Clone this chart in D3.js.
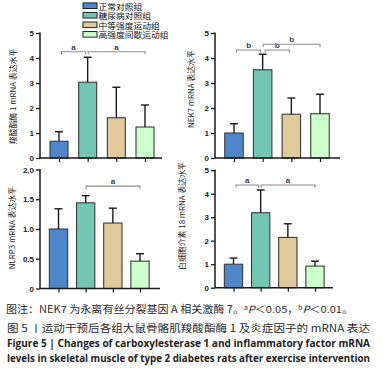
<!DOCTYPE html>
<html><head><meta charset="utf-8">
<script src="https://cdn.jsdelivr.net/npm/d3@7/dist/d3.min.js"></script>
<style>html,body{margin:0;padding:0;background:#fff;}svg{display:block;}</style>
</head><body>
<svg id="chart" width="383" height="378"></svg>
<script>
// ---- data ----
const groups = ["正常对照组","糖尿病对照组","中等强度运动组","高强度间歇运动组"];
const ces1Mean = [0.67, 3.03, 1.61, 1.24];
const ces1Sd   = [0.38, 1.00, 1.22, 0.88];
const nek7Mean = [1.00, 3.53, 1.75, 1.77];
const nek7Sd   = [0.37, 0.62, 0.65, 0.78];
const nlrp3Mean = [1.00, 1.44, 1.10, 0.46];
const nlrp3Sd   = [0.34, 0.12, 0.25, 0.125];
const il18Mean = [1.00, 3.19, 2.14, 0.92];
const il18Sd   = [0.26, 0.97, 0.58, 0.21];
const ticks5 = [0,1,2,3,4,5];
const ticks2 = [0,0.5,1.0,1.5,2.0];
const ces1Sig = [[0,1,"a"],[1,3,"a"]];
const nek7Sig = [[0,1,"b"],[1,2,"b"],[1,3,"b"]];
const nlrp3Sig = [[1,3,"a"]];
const il18Sig = [[0,1,"a"],[1,3,"a"]];

// ---- styles / layout ----
const colors = ["#4d87c7","#73c6b1","#e0c99a","#ccffcc"];
const svg = d3.select("#chart");
const panels = [
  {title:"羧酸酯酶 1 mRNA 表达水平", mean:ces1Mean, sd:ces1Sd, ticks:ticks5, max:5,
   x0:40, x1:162, yTop:33, yBot:158, c0:59, c1:145, bw:18, titleX:12, titleY:96.5, sig:ces1Sig, sigY:[4.25,4.25]},
  {title:"NEK7 mRNA 表达水平", mean:nek7Mean, sd:nek7Sd, ticks:ticks5, max:5,
   x0:215, x1:340, yTop:33, yBot:158, c0:234, c1:320, bw:18.5, titleX:190, titleY:89, sig:nek7Sig, sigY:[4.32,4.32,4.55]},
  {title:"NLRP3 mRNA 表达水平", mean:nlrp3Mean, sd:nlrp3Sd, ticks:ticks2, max:2,
   x0:40, x1:160, yTop:169.5, yBot:288.5, c0:58.5, c1:140, bw:18.3, titleX:11, titleY:228, sig:nlrp3Sig, sigY:[1.72]},
  {title:"白细胞介素 18 mRNA 表达水平", mean:il18Mean, sd:il18Sd, ticks:ticks5, max:5,
   x0:215, x1:333, yTop:170.2, yBot:287.7, c0:233.5, c1:315, bw:18.3, titleX:181, titleY:216, sig:il18Sig, sigY:[4.37,4.37]}
];

panels.forEach(p => {
  const g = svg.append("g");
  const x = d3.scalePoint().domain(d3.range(groups.length)).range([p.c0, p.c1]);
  const y = d3.scaleLinear().domain([0, p.max]).range([p.yBot, p.yTop]);

  // bars
  g.selectAll("rect.bar").data(p.mean).join("rect")
    .attr("x", (d,i) => x(i) - p.bw/2).attr("width", p.bw)
    .attr("y", d => y(d)).attr("height", d => y(0) - y(d))
    .attr("fill", (d,i) => colors[i]).attr("stroke", "#3a3a3a").attr("stroke-width", 1.1);
  // error bars
  g.selectAll("line.err").data(p.mean).join("line")
    .attr("x1",(d,i)=>x(i)).attr("x2",(d,i)=>x(i))
    .attr("y1", d=>y(d)).attr("y2",(d,i)=>y(d+p.sd[i]))
    .attr("stroke","#1a1a1a").attr("stroke-width",1.4);
  g.selectAll("line.cap").data(p.mean).join("line")
    .attr("x1",(d,i)=>x(i)-4).attr("x2",(d,i)=>x(i)+4)
    .attr("y1",(d,i)=>y(d+p.sd[i])).attr("y2",(d,i)=>y(d+p.sd[i]))
    .attr("stroke","#1a1a1a").attr("stroke-width",1.4);

  // y axis
  const ya = d3.axisLeft(y).tickValues(p.ticks).tickSize(4).tickPadding(2)
    .tickFormat(d => p.max === 2 ? (d === 0 ? "0" : d3.format(".1f")(d)) : d3.format("d")(d));
  const yg = g.append("g").attr("transform", `translate(${p.x0},0)`).call(ya);
  yg.select(".domain").remove();
  yg.selectAll(".tick line").attr("stroke","#1a1a1a").attr("stroke-width",1.3);
  yg.selectAll(".tick text").attr("font-family","'Liberation Sans', Arial, sans-serif")
    .attr("font-size", 8).attr("font-weight","bold").attr("fill","#222");
  g.append("line").attr("x1",p.x0).attr("x2",p.x0).attr("y1",p.yTop - 0.5).attr("y2",p.yBot)
    .attr("stroke","#1a1a1a").attr("stroke-width",1.5);
  // x axis
  const xa = d3.axisBottom(x).tickSize(4).tickFormat("");
  const xg = g.append("g").attr("transform",`translate(0,${p.yBot})`).call(xa);
  xg.select(".domain").remove();
  xg.selectAll(".tick line").attr("stroke","#1a1a1a").attr("stroke-width",1.2);
  g.append("line").attr("x1",p.x0).attr("x2",p.x1).attr("y1",p.yBot).attr("y2",p.yBot)
    .attr("stroke","#1a1a1a").attr("stroke-width",1.5);

  // y title
  g.append("text").attr("transform",`translate(${p.titleX},${p.titleY}) rotate(-90)`)
    .attr("text-anchor","middle").attr("dominant-baseline","central")
    .attr("font-family","'Noto Sans CJK SC', sans-serif").attr("font-size",7.9).attr("fill","#222")
    .text(p.title);

  // significance brackets
  p.sig.forEach((s,k) => {
    const by = y(p.sigY[k]);
    const adj = (s[1]-s[0]===1);
    const xa1 = x(s[0]) + (adj ? 2.5 : 0.5);
    const xa2 = x(s[1]) - (adj ? 2 : 0);
    g.append("path").attr("d",`M${xa1},${by+2.8}V${by}H${xa2}V${by+2.8}`)
      .attr("fill","none").attr("stroke","#8c8c8c").attr("stroke-width",1.1);
    g.append("text").attr("x",(xa1+xa2)/2).attr("y",by-2)
      .attr("text-anchor","middle").attr("font-family","'Liberation Sans', Arial, sans-serif")
      .attr("font-size",8).attr("font-weight","bold").attr("fill","#3b3b55").text(s[2]);
  });
});

// legend
const lg = svg.append("g");
groups.forEach((name,i) => {
  const cy = 5.7 + i*9.55;
  lg.append("rect").attr("x",83).attr("y",cy-2.8).attr("width",14).attr("height",5.6)
    .attr("fill",colors[i]).attr("stroke","#222").attr("stroke-width",1);
  lg.append("text").attr("x",98.5).attr("y",cy).attr("dominant-baseline","central")
    .attr("font-family","'Noto Sans CJK SC', sans-serif").attr("font-size",8.3).attr("fill","#111")
    .attr("textLength", name.length * 8.75).attr("lengthAdjust","spacingAndGlyphs")
    .text(name);
});

// captions
const cap = svg.append("g").attr("font-family","'Noto Sans CJK SC', 'Noto Sans', sans-serif").attr("fill","#2a2a2a");
const t1 = cap.append("text").attr("x",6).attr("y",313).attr("font-size",9.8)
  .attr("textLength",347).attr("lengthAdjust","spacingAndGlyphs");
t1.append("tspan").text("图注：NEK7 为永离有丝分裂基因 A 相关激酶 7。");
t1.append("tspan").attr("font-size",6).attr("dy",-3.5).text("a");
t1.append("tspan").attr("font-style","italic").attr("dy",3.5).text("P");
t1.append("tspan").text("＜0.05，");
t1.append("tspan").attr("font-size",6).attr("dy",-3.5).text("b");
t1.append("tspan").attr("font-style","italic").attr("dy",3.5).text("P");
t1.append("tspan").text("＜0.01。");

cap.append("text").attr("x",7).attr("y",332).attr("font-size",10)
  .attr("textLength",363).attr("lengthAdjust","spacingAndGlyphs")
  .text("图 5 丨运动干预后各组大鼠骨骼肌羧酸酯酶 1 及炎症因子的 mRNA 表达");
cap.append("text").attr("x",7).attr("y",346.5).attr("font-size",10).attr("font-weight","bold")
  .attr("font-family","'Open Sans', sans-serif").attr("fill","#222")
  .attr("textLength",363).attr("lengthAdjust","spacingAndGlyphs")
  .text("Figure 5  |  Changes of carboxylesterase 1 and inflammatory factor mRNA");
cap.append("text").attr("x",7).attr("y",362).attr("font-size",10).attr("font-weight","bold")
  .attr("font-family","'Open Sans', sans-serif").attr("fill","#222")
  .attr("textLength",363).attr("lengthAdjust","spacingAndGlyphs")
  .text("levels in skeletal muscle of type 2 diabetes rats after exercise intervention");
</script>
</body></html>
